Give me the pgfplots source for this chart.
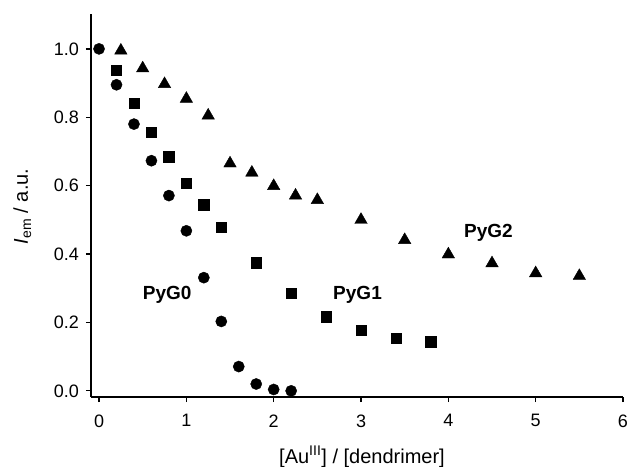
\documentclass[border=0pt]{standalone}
\usepackage{pgfplots}
\pgfplotsset{compat=1.18}
\usepackage{fontspec}
\setmainfont{Liberation Sans}
\begin{document}
\begin{tikzpicture}
\begin{axis}[name=ax, at={(0,0)}, anchor=south west, scale only axis,
 width=532pt, height=383pt,
 xmin=-0.092, xmax=6, ymin=-0.018, ymax=1.102,
 axis x line*=bottom, axis y line*=left,
 axis line style={line width=1.8pt, -},
 xtick={0,1,2,3,4,5,6}, ytick={0,0.2,0.4,0.6,0.8,1.0},
 tick align=outside, major tick length=5pt, tick style={line width=1.3pt,black},
 yticklabel style={xshift=-3.5pt, /pgf/number format/fixed, /pgf/number format/fixed zerofill, /pgf/number format/precision=1},
 /pgf/number format/assume math mode=true,
 ticklabel style={font=\fontsize{18}{21}\selectfont},
 xticklabel style={yshift=-9pt},
 xlabel={[Au\textsuperscript{III}] / [dendrimer]},
 ylabel={\textit{I}\textsubscript{em} / a.u.},
 label style={font=\fontsize{20}{24}\selectfont},
 xlabel style={at={(axis description cs:0.5,0)}, anchor=base, yshift=-66pt, xshift=5pt},
 ylabel style={at={(axis description cs:0,0.5)}, anchor=base, yshift=63pt, xshift=-1pt},
 clip=false]
\addplot[only marks, mark=*, mark size=5.6pt, black] coordinates {
(0,1.0) (0.2,0.895) (0.4,0.78) (0.6,0.673) (0.8,0.571) (1.0,0.468)
(1.2,0.331) (1.4,0.203) (1.6,0.071) (1.8,0.020) (2.0,0.004) (2.2,0.0)};
\addplot[only marks, mark=square*, mark size=5.2pt, black] coordinates {
(0.2,0.937) (0.4,0.842) (0.6,0.757) (0.8,0.685) (1.0,0.607) (1.2,0.544)
(1.4,0.479) (1.8,0.375) (2.2,0.286) (2.6,0.217) (3.0,0.178) (3.4,0.154) (3.8,0.144)};
\addplot[only marks, mark=triangle*, mark size=7.2pt, black] coordinates {
(0.25,0.995) (0.5,0.943) (0.75,0.897) (1.0,0.854) (1.25,0.805) (1.5,0.665)
(1.75,0.638) (2.0,0.599) (2.25,0.571) (2.5,0.558) (3.0,0.500) (3.5,0.441)
(4.0,0.399) (4.5,0.373) (5.0,0.344) (5.5,0.336)};
\node[anchor=base, font=\bfseries\fontsize{19}{22}\selectfont] at (axis cs:0.78,0.266) {PyG0};
\node[anchor=base, font=\bfseries\fontsize{19}{22}\selectfont] at (axis cs:2.96,0.266) {PyG1};
\node[anchor=base, font=\bfseries\fontsize{19}{22}\selectfont] at (axis cs:4.46,0.447) {PyG2};
\end{axis}
\pgfresetboundingbox
\path[use as bounding box] ([xshift=-91pt,yshift=-69pt]ax.south west) rectangle ([xshift=6pt,yshift=14pt]ax.north east);
\end{tikzpicture}
\end{document}
